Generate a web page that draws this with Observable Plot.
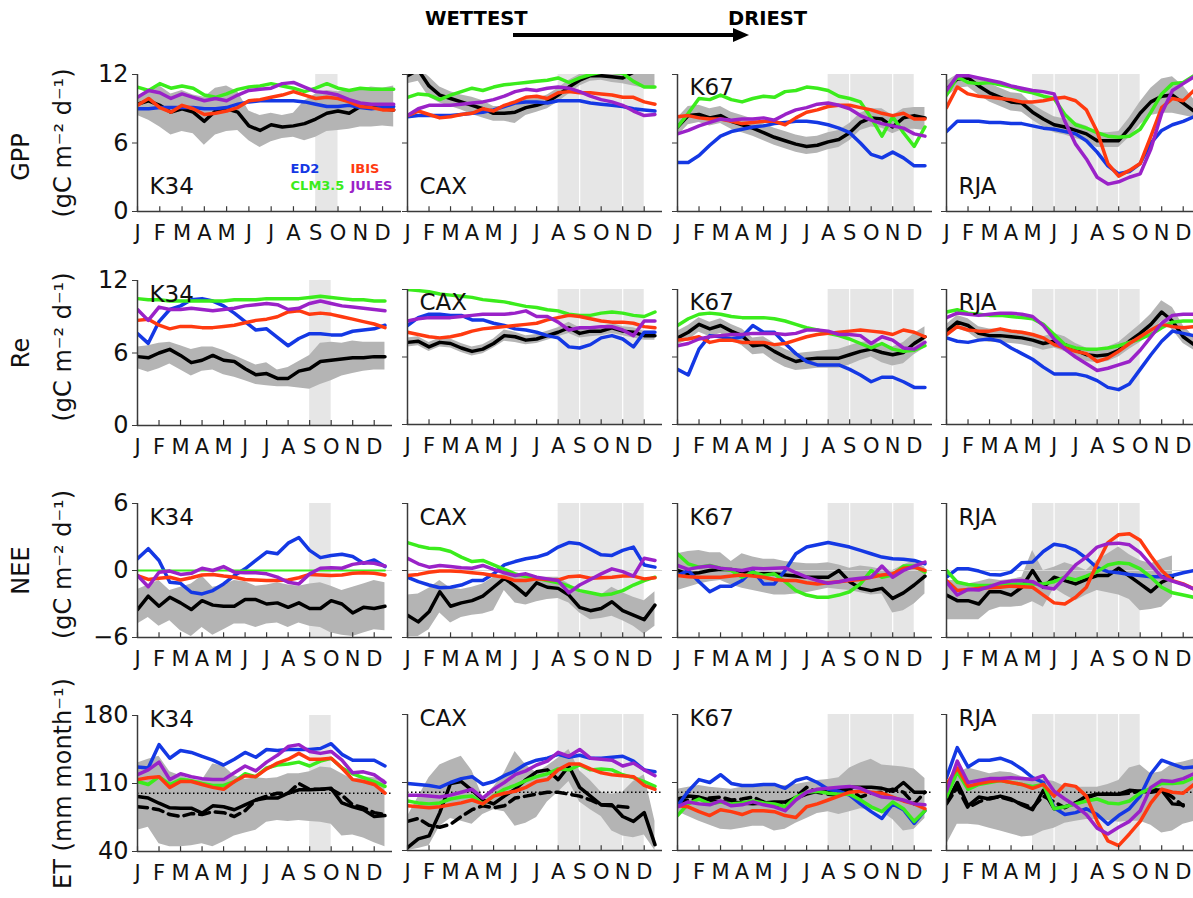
<!DOCTYPE html>
<html><head><meta charset="utf-8">
<script src="https://cdn.jsdelivr.net/npm/d3@7"></script>
<script src="https://cdn.jsdelivr.net/npm/@observablehq/plot@0.6"></script>
<style>
html,body{margin:0;padding:0;background:#fff;overflow:hidden;}
#fig{position:relative;width:1193px;height:898px;overflow:hidden;font-family:"DejaVu Sans",sans-serif;background:#fff;}
.panel{position:absolute;}
</style></head>
<body><div id="fig">
<svg style="position:absolute;left:0;top:0" width="1193" height="50">
<text x="425" y="25" font-family="DejaVu Sans" font-weight="bold" font-size="19.5" fill="#000">WETTEST</text>
<text x="728" y="25" font-family="DejaVu Sans" font-weight="bold" font-size="19.5" fill="#000">DRIEST</text>
<line x1="513" y1="35" x2="736" y2="35" stroke="#000" stroke-width="4"/>
<polygon points="733,28 749,35 733,42" fill="#000"/>
</svg>
</div>
<script>
// ---------- categories / labels ----------
var MONTHS = ["J","F","M","A","M","J","J","A","S","O","N","D"];
var SITES = ["K34","CAX","K67","RJA"];
var ROWS = ["GPP","Re","NEE","ET"];
var MODEL_KEYS = ["ED2","CLM","IBIS","JULES"];
var MODEL_NAMES = ["ED2","CLM3.5","IBIS","JULES"];
var MODEL_COLORS = ["#1438e4","#3bec1c","#ff3a10","#9a22c8"];
var Y_TICKS = [[0,6,12],[0,6,12],[-6,0,6],[40,110,180]];
var Y_DOMAINS = [[0,12],[0,12],[-6,6],[40,180]];
var Y_LABELS = [["GPP","(gC m⁻² d⁻¹)"],["Re","(gC m⁻² d⁻¹)"],["NEE","(gC m⁻² d⁻¹)"],["ET (mm month⁻¹)"]];
var DRY_START = [8,7,7,4];
var DRY_END = [9,11,11,9];
var DRY_SEPS = [[],[8,10],[8,10],[5,7,8]];
var ET_REF = 100;

// ---------- GPP ----------
var GPP_K34_obs = [9.4,9.7,9.3,8.7,9.0,8.7,7.9,8.8,9.0,8.7,7.5,7.1,7.6,7.4,7.5,7.7,8.1,8.6,8.8,8.6,9.2,9.1,9.0,8.9];
var GPP_K34_lo = [8.4,8.0,7.4,6.7,7.0,6.8,5.8,6.7,7.0,7.1,6.2,5.6,6.1,6.4,6.5,6.2,6.5,7.0,7.1,7.2,7.4,7.4,7.5,7.4];
var GPP_K34_hi = [10.0,10.6,11.0,10.3,10.6,10.2,10.0,10.8,11.0,10.5,8.8,8.4,8.6,8.4,8.6,9.7,10.3,10.6,10.5,10.6,10.7,10.9,10.8,11.0];
var GPP_K34_ED2 = [9.0,9.0,9.1,9.1,9.1,9.1,9.0,9.0,9.1,9.4,9.6,9.7,9.7,9.7,9.7,9.6,9.4,9.2,9.2,9.3,9.1,9.0,9.1,9.2];
var GPP_K34_CLM = [10.9,10.6,11.2,10.8,11.0,10.8,10.2,10.0,10.3,10.7,10.9,11.0,11.2,11.0,10.8,10.5,10.8,11.2,10.8,10.6,10.8,10.7,10.7,10.7];
var GPP_K34_IBIS = [9.3,9.9,9.1,8.7,9.3,9.0,8.5,8.6,8.8,9.1,9.7,9.8,10.0,10.2,10.5,10.2,9.9,10.0,9.9,9.6,9.2,9.1,8.9,8.9];
var GPP_K34_JULES = [10.0,10.6,10.4,9.9,10.3,10.0,9.7,9.9,9.7,10.2,10.6,10.7,10.8,11.2,11.3,10.9,10.5,10.4,10.2,9.8,9.5,9.4,9.4,9.4];

var GPP_CAX_obs = [11.9,12.4,11.0,10.2,9.9,9.6,9.3,9.0,8.6,8.6,8.7,9.1,9.3,9.6,10.2,10.9,11.5,11.9,11.9,11.8,11.7,12.2,12.3,12.3];
var GPP_CAX_lo = [11.2,11.4,10.0,9.5,9.2,8.9,8.5,8.2,7.9,7.9,7.7,8.4,8.7,9.0,9.6,10.3,11.0,11.4,11.5,11.3,11.2,11.0,10.8,10.7];
var GPP_CAX_hi = [12.6,12.6,11.8,10.9,10.5,10.2,10.0,9.7,9.2,9.2,9.3,9.8,9.9,10.2,10.8,11.5,12.0,12.4,12.4,12.4,12.4,12.6,12.7,12.7];
var GPP_CAX_ED2 = [8.3,8.4,8.4,8.4,8.4,8.5,8.6,8.7,8.9,9.2,9.5,9.6,9.6,9.5,9.7,9.7,9.7,9.5,9.4,9.3,9.2,9.0,8.9,8.8];
var GPP_CAX_CLM = [10.0,10.3,10.2,9.8,10.2,10.5,10.8,10.6,10.9,11.1,11.2,11.3,11.4,11.5,11.7,11.3,11.7,12.0,12.2,12.2,12.1,11.4,10.9,10.9];
var GPP_CAX_IBIS = [8.4,8.8,8.5,8.2,8.3,8.5,8.6,9.0,8.8,9.3,9.6,10.0,10.1,9.9,10.4,10.5,10.4,10.4,10.3,10.2,10.0,10.0,9.6,9.4];
var GPP_CAX_JULES = [8.4,9.0,9.3,9.3,9.3,9.4,9.5,9.6,9.8,10.1,10.5,10.7,10.6,10.8,10.9,10.8,10.5,10.1,9.8,9.6,9.3,8.8,8.4,8.5];

var GPP_K67_obs = [7.4,8.4,8.5,8.2,8.4,7.9,7.6,7.3,6.9,6.5,6.2,5.9,5.7,5.8,6.1,6.3,6.9,7.8,8.2,8.1,7.4,8.2,8.4,8.2];
var GPP_K67_lo = [6.6,7.6,7.8,7.5,7.7,7.2,6.9,6.6,6.2,5.8,5.5,5.2,5.0,5.1,5.4,5.6,6.2,7.1,7.4,7.3,6.8,7.2,7.2,7.1];
var GPP_K67_hi = [8.2,9.2,9.3,9.0,9.2,8.7,8.4,8.1,7.7,7.3,7.0,6.7,6.5,6.6,6.9,7.1,7.7,8.6,9.0,9.0,8.4,9.0,9.1,9.1];
var GPP_K67_ED2 = [4.3,4.3,4.9,5.8,6.6,7.0,7.2,7.4,7.5,7.7,7.8,7.9,7.9,7.8,7.6,7.3,6.9,6.0,5.0,4.7,5.2,4.7,4.0,4.0];
var GPP_K67_CLM = [7.4,8.6,9.9,9.8,10.2,9.8,9.6,9.9,10.1,10.0,10.5,10.6,10.9,10.8,10.6,10.1,9.9,9.6,8.2,6.6,8.3,6.9,5.7,7.4];
var GPP_K67_IBIS = [8.3,8.4,8.2,8.1,8.1,7.9,7.7,7.8,7.9,7.9,7.6,8.2,8.7,8.9,9.2,9.3,9.3,9.1,8.9,8.6,8.4,8.6,8.1,8.1];
var GPP_K67_JULES = [6.8,7.1,7.5,7.8,8.1,8.0,8.1,8.1,8.2,8.0,8.5,8.9,9.1,9.4,9.5,9.3,9.0,8.4,8.0,7.7,7.5,7.3,6.8,6.6];

var GPP_RJA_obs = [10.7,11.6,11.7,11.0,10.4,10.0,9.6,9.5,8.7,8.1,7.6,7.4,7.1,6.8,6.2,6.2,6.2,7.3,8.6,9.6,10.1,10.2,9.5,8.8];
var GPP_RJA_lo = [10.0,10.8,10.9,10.2,9.6,9.2,8.8,8.7,8.0,7.4,6.9,6.7,6.4,6.1,5.6,5.6,5.6,6.5,7.6,8.4,8.6,8.6,8.4,8.2];
var GPP_RJA_hi = [11.4,12.0,12.0,11.7,11.2,10.8,10.4,10.3,9.4,8.8,8.3,8.1,7.8,7.5,6.9,6.9,7.0,8.2,9.6,10.8,11.6,11.8,11.0,9.8];
var GPP_RJA_ED2 = [7.0,7.9,7.9,7.9,7.8,7.8,7.7,7.7,7.5,7.3,7.2,7.0,6.8,6.2,5.2,4.0,3.3,3.5,4.2,6.0,7.1,7.6,7.9,8.3];
var GPP_RJA_CLM = [10.2,11.8,11.3,11.2,11.3,11.1,10.9,10.6,10.4,10.1,9.9,8.5,7.6,7.3,6.9,6.6,6.5,6.6,7.2,8.7,10.3,11.2,11.3,11.9];
var GPP_RJA_IBIS = [9.1,10.9,10.3,10.1,10.0,9.9,9.8,9.6,9.6,9.7,9.9,10.0,9.7,8.9,7.0,4.2,3.1,3.6,4.2,6.6,9.1,9.9,9.7,10.6];
var GPP_RJA_JULES = [10.6,11.9,11.9,11.7,11.5,11.3,11.0,10.8,10.6,10.5,10.3,7.9,5.9,4.6,3.0,2.4,2.6,3.0,3.3,5.5,8.6,10.6,11.2,11.8];

// ---------- Re ----------
var Re_K34_obs = [5.7,5.6,6.0,6.3,5.8,5.2,5.4,5.8,5.4,5.3,4.7,4.2,4.3,3.9,3.9,4.5,4.7,5.3,5.4,5.5,5.6,5.6,5.7,5.7];
var Re_K34_lo = [4.7,4.4,4.7,5.1,4.6,4.1,4.5,4.6,4.2,4.0,3.7,3.4,3.3,3.2,3.2,3.1,3.0,3.4,3.7,4.1,4.3,4.5,4.6,4.6];
var Re_K34_hi = [6.5,6.6,6.8,6.9,6.6,6.3,6.5,6.5,6.2,5.8,5.4,5.0,5.2,4.6,4.8,5.3,5.8,6.8,6.9,6.8,7.0,6.9,6.9,6.9];
var Re_K34_ED2 = [7.6,6.8,8.6,9.6,9.9,10.4,10.5,10.3,9.9,9.3,8.6,7.9,8.0,7.3,6.6,7.2,7.6,7.6,7.5,7.5,7.8,7.9,8.0,8.3];
var Re_K34_CLM = [10.5,10.4,10.4,10.3,10.3,10.3,10.3,10.3,10.3,10.4,10.4,10.4,10.5,10.5,10.5,10.5,10.6,10.7,10.6,10.5,10.4,10.4,10.3,10.3];
var Re_K34_IBIS = [8.7,8.8,8.3,8.0,8.2,8.2,8.1,8.1,8.2,8.3,8.5,8.7,8.8,9.0,9.4,9.5,9.2,9.3,9.2,9.0,8.8,8.6,8.4,8.1];
var Re_K34_JULES = [9.6,8.7,9.8,9.6,9.6,9.7,9.6,9.5,9.6,9.7,9.9,10.0,10.1,10.0,9.6,9.7,10.1,10.3,10.1,9.9,9.8,9.7,9.6,9.5];

var Re_CAX_obs = [7.3,7.4,6.9,7.3,7.2,6.8,6.5,6.7,7.2,7.9,7.8,7.5,7.6,7.9,8.2,8.6,8.1,8.3,8.3,8.6,8.3,8.2,7.9,7.9];
var Re_CAX_lo = [6.9,7.0,6.5,6.9,6.8,6.4,6.1,6.3,6.8,7.4,7.3,7.1,7.2,7.5,7.8,8.1,7.7,7.8,7.9,8.1,7.9,7.7,7.5,7.5];
var Re_CAX_hi = [7.7,7.8,7.3,7.7,7.6,7.2,6.9,7.1,7.6,8.4,8.2,7.9,8.0,8.3,8.6,9.1,8.6,8.7,8.7,9.0,8.7,8.6,8.3,8.3];
var Re_CAX_ED2 = [8.8,9.5,9.8,9.8,9.7,9.7,9.3,9.3,9.0,8.8,8.5,8.4,8.2,7.9,7.7,6.9,6.8,7.1,7.7,7.9,7.6,6.9,8.2,8.2];
var Re_CAX_CLM = [12.0,11.9,11.8,11.6,11.5,11.4,11.3,11.1,11.0,10.9,10.7,10.5,10.4,10.2,10.1,9.8,9.7,9.7,9.9,10.0,9.9,9.7,9.6,10.0];
var Re_CAX_IBIS = [8.2,8.0,7.8,7.7,7.8,8.0,8.3,8.5,8.6,8.7,8.8,8.9,9.0,9.3,9.5,9.7,9.6,9.4,9.2,9.1,9.1,9.0,8.7,8.6];
var Re_CAX_JULES = [9.2,9.4,9.5,9.5,9.5,9.6,9.7,9.8,9.8,9.8,9.9,10.1,9.6,9.6,9.1,8.4,8.6,8.6,8.7,8.7,8.4,7.9,9.2,9.2];

var Re_K67_obs = [7.7,8.2,8.9,8.5,8.8,8.3,7.9,7.0,7.1,6.5,6.0,5.6,5.8,5.9,5.9,5.9,6.2,6.5,6.7,6.4,6.2,6.4,7.2,7.8];
var Re_K67_lo = [7.1,7.5,8.2,7.8,8.1,7.5,7.0,6.2,6.3,5.6,5.1,4.8,4.9,5.0,5.0,5.0,5.3,5.7,6.0,5.5,5.2,5.4,6.2,6.8];
var Re_K67_hi = [8.3,8.8,9.5,9.1,9.4,8.9,8.5,7.7,7.8,7.2,6.7,6.3,6.4,6.5,6.6,6.7,7.0,7.3,7.4,7.1,6.9,7.3,8.1,8.7];
var Re_K67_ED2 = [4.9,4.4,6.7,7.9,7.8,7.6,7.8,8.8,8.2,8.2,7.2,6.3,5.6,5.3,5.3,5.3,4.9,4.4,3.8,4.2,4.2,3.8,3.3,3.3];
var Re_K67_CLM = [8.8,9.4,9.8,9.9,9.8,9.6,9.5,9.5,9.5,9.4,9.2,8.9,8.6,8.4,8.1,7.9,7.6,7.2,6.8,7.2,6.7,6.5,6.6,7.0];
var Re_K67_IBIS = [7.5,7.6,7.8,7.3,7.5,7.5,7.3,7.3,7.3,7.1,7.2,7.5,7.8,8.0,8.1,8.2,8.3,8.4,8.3,8.2,8.0,8.4,8.2,7.8];
var Re_K67_JULES = [7.0,7.2,7.6,7.8,7.9,8.0,8.0,8.1,8.1,8.1,8.0,8.1,8.4,8.4,8.3,8.0,8.0,7.9,7.2,7.8,7.5,6.8,6.7,7.3];

var Re_RJA_obs = [8.3,9.1,8.8,8.1,7.9,7.9,7.8,7.7,7.5,7.2,7.4,7.1,6.6,6.2,6.1,6.2,6.6,7.4,8.1,8.9,10.0,9.2,7.8,7.1];
var Re_RJA_lo = [7.7,8.5,8.2,7.5,7.3,7.3,7.2,7.1,6.9,6.6,6.8,6.5,6.0,5.6,5.5,5.6,6.0,6.7,7.3,8.0,9.2,8.4,7.2,6.6];
var Re_RJA_hi = [8.9,9.7,9.4,8.7,8.5,8.5,8.4,8.3,8.1,7.8,8.1,7.8,7.2,6.8,6.7,6.9,7.3,8.1,8.9,9.8,11.0,10.4,8.8,7.8];
var Re_RJA_ED2 = [7.7,7.4,7.3,7.5,7.6,7.4,6.8,6.3,5.8,5.1,4.5,4.5,4.5,4.3,3.9,3.3,3.1,3.6,4.9,6.2,7.4,8.3,8.1,7.9];
var Re_RJA_CLM = [10.0,10.2,9.9,9.8,9.7,9.7,9.6,9.5,9.4,8.9,8.0,7.1,6.8,6.7,6.7,6.8,7.0,7.3,7.6,8.0,8.6,9.1,9.2,9.2];
var Re_RJA_IBIS = [8.0,8.7,8.4,8.3,8.3,8.5,8.3,8.2,8.0,7.7,7.1,6.8,6.5,6.3,5.6,5.9,6.5,7.2,7.8,8.4,8.9,8.7,8.6,8.7];
var Re_RJA_JULES = [9.5,9.9,9.8,9.7,9.8,9.9,9.9,9.8,9.6,8.8,7.6,6.7,6.0,5.4,4.8,5.0,5.3,5.6,6.6,7.8,9.0,9.7,9.8,9.8];

// ---------- NEE ----------
var NEE_K34_obs = [-3.5,-2.3,-3.2,-2.4,-2.9,-3.5,-2.7,-3.1,-3.2,-3.2,-2.6,-2.6,-3.0,-2.9,-3.3,-2.9,-3.4,-3.4,-2.7,-3.0,-3.8,-3.3,-3.4,-3.2];
var NEE_K34_lo = [-4.8,-4.2,-5.0,-4.5,-5.4,-5.9,-5.1,-5.8,-5.3,-4.8,-4.8,-5.1,-4.8,-4.7,-5.1,-4.7,-5.0,-5.1,-5.6,-5.8,-5.9,-5.6,-5.3,-5.4];
var NEE_K34_hi = [-1.7,-1.3,-0.9,-1.8,-1.5,-1.2,-0.5,-1.5,-1.3,-0.9,-1.0,-1.4,-1.3,-1.1,-1.3,-1.4,-1.2,-1.1,-1.4,-1.8,-1.5,-1.2,-0.9,-1.1];
var NEE_K34_ED2 = [1.05,1.95,0.9,-1.05,-1.15,-1.95,-2.1,-1.8,-1.2,-0.45,0.15,0.9,1.65,1.5,2.45,2.95,1.8,1.15,1.35,1.45,1.25,0.65,0.95,0.35];
var NEE_K34_CLM = [0,0,0,0,0,0,0,0,0,0,0,0,0,0,0,0,0,0,0,0,0,0,0,0];
var NEE_K34_IBIS = [-0.45,-0.8,-0.7,-0.6,-0.85,-0.65,-0.4,-0.35,-0.5,-0.6,-0.8,-0.85,-0.9,-0.9,-0.85,-0.65,-0.35,-0.4,-0.45,-0.4,-0.25,-0.2,-0.25,-0.4];
var NEE_K34_JULES = [-0.45,-1.45,-0.15,-0.05,-0.35,-0.25,0.2,0.0,0.35,-0.15,-0.2,-0.2,-0.3,-0.6,-1.05,-1.2,-0.3,0.2,0.25,0.2,0.55,0.7,0.65,0.4];

var NEE_CAX_obs = [-4.0,-4.6,-3.7,-1.9,-3.2,-2.9,-2.7,-2.3,-1.5,-0.7,-1.4,-2.2,-1.1,-1.5,-1.6,-2.2,-3.3,-3.6,-3.4,-2.8,-3.6,-4.0,-4.4,-3.1];
var NEE_CAX_lo = [-5.9,-5.9,-5.3,-3.8,-4.7,-4.2,-4.0,-3.9,-3.6,-1.8,-2.9,-3.1,-2.8,-2.6,-2.5,-2.9,-3.8,-4.4,-4.3,-4.1,-4.5,-5.0,-5.7,-5.0];
var NEE_CAX_hi = [-2.2,-2.1,-1.6,-0.9,-1.6,-1.7,-1.5,-1.2,-0.6,-0.3,-0.5,-0.6,-0.6,-0.6,-0.6,-1.2,-2.0,-2.1,-2.2,-1.5,-2.0,-2.4,-2.7,-1.9];
var NEE_CAX_ED2 = [-0.6,-1.0,-1.3,-1.55,-1.5,-1.3,-0.9,-0.9,-0.3,0.5,0.8,1.05,1.2,1.5,2.1,2.5,2.4,1.9,1.4,1.35,1.8,2.1,0.5,0.3];
var NEE_CAX_CLM = [2.5,2.2,2.0,1.95,1.7,1.2,0.8,0.9,0.5,0.1,-0.3,-0.55,-0.7,-0.9,-1.1,-1.4,-1.8,-2.0,-2.2,-2.1,-1.8,-1.3,-0.9,-0.6];
var NEE_CAX_IBIS = [-0.45,-0.35,-0.15,-0.05,-0.05,-0.1,-0.2,-0.3,-0.45,-0.6,-0.9,-0.9,-0.75,-0.8,-0.85,-0.55,-0.5,-0.7,-0.65,-0.6,-0.5,-0.5,-0.75,-0.65];
var NEE_CAX_JULES = [1.1,0.6,0.3,0.45,0.35,0.25,0.2,0.45,0.1,-0.2,-0.45,-0.3,-0.6,-0.75,-0.9,-2.0,-1.3,-0.8,-0.3,0.15,-0.1,-0.5,1.1,0.9];

var NEE_K67_obs = [0.0,-0.3,-0.2,0.0,0.1,0.1,-0.1,-0.3,-0.3,-0.3,-0.4,-0.5,-0.6,-0.6,-0.6,0.0,-1.0,-1.6,-1.8,-1.6,-2.5,-2.0,-1.3,-0.5];
var NEE_K67_lo = [-1.8,-1.5,-1.2,-1.0,-0.9,-1.3,-1.6,-1.8,-2.0,-2.2,-2.2,-2.1,-2.0,-1.8,-1.6,-1.7,-1.8,-2.0,-2.2,-2.1,-3.8,-3.6,-3.0,-2.1];
var NEE_K67_hi = [1.5,1.7,1.8,1.6,1.6,0.8,1.5,1.2,1.0,1.0,0.8,0.7,0.6,0.6,0.7,0.5,0.2,0.4,0.3,0.1,0.0,0.5,0.9,0.3];
var NEE_K67_ED2 = [-0.45,0.0,-1.0,-1.9,-1.4,-1.4,-0.9,0.0,-1.2,-1.2,0.0,1.5,2.1,2.3,2.5,2.3,2.1,1.8,1.5,1.2,1.05,1.0,0.9,0.6];
var NEE_K67_CLM = [1.5,0.6,0.3,0.45,0.2,0.0,-0.6,-0.15,-0.45,-0.3,-1.0,-1.8,-2.2,-2.4,-2.4,-2.2,-1.9,-1.2,0.0,-0.6,-0.4,0.4,0.4,-0.15];
var NEE_K67_IBIS = [-0.45,-0.55,-0.6,-0.6,-0.6,-0.5,-0.4,-0.5,-0.6,-0.8,-0.9,-0.9,-1.1,-1.2,-1.1,-1.0,-0.9,-0.8,-0.6,-0.4,-0.3,0.2,0.3,0.0];
var NEE_K67_JULES = [0.45,0.1,0.3,0.4,0.2,0.1,0.0,0.2,0.15,0.2,0.25,-0.2,-0.6,-0.9,-1.15,-1.0,-0.8,-0.7,-0.6,0.4,-0.6,0.0,0.4,0.75];

var NEE_RJA_obs = [-2.2,-2.7,-2.7,-3.0,-1.9,-1.9,-2.2,-1.5,0.0,-1.5,-0.6,-0.9,-1.2,-0.8,-0.45,-0.45,0.2,-0.5,-1.2,-1.9,-1.05,-0.6,null,null];
var NEE_RJA_lo = [-4.4,-4.4,-4.4,-4.4,-3.6,-3.3,-3.3,-3.2,-2.8,-3.3,-1.6,-2.2,-2.7,-2.2,-1.8,-2.0,-2.2,-2.6,-3.6,-3.5,-3.3,-2.4,null,null];
var NEE_RJA_hi = [-0.9,-0.9,-1.2,-1.0,-0.75,-0.9,-0.8,-0.6,1.8,0.0,0.3,0.7,0.4,0.0,0.9,1.5,2.1,1.4,0.9,0.6,1.0,1.3,null,null];
var NEE_RJA_ED2 = [-0.6,0.15,0.15,-0.05,-0.35,-0.4,-0.15,0.7,0.75,1.7,2.35,2.2,1.8,1.1,0.25,-0.1,-0.2,-0.35,-0.45,-0.55,-0.55,-0.45,-0.2,0.0];
var NEE_RJA_CLM = [0.0,-1.05,-1.25,-1.35,-1.35,-1.3,-1.25,-1.2,-1.2,-1.2,-1.0,-0.6,-0.85,-0.5,-0.1,0.5,0.7,0.6,0.15,-0.6,-1.5,-2.0,-2.2,-2.4];
var NEE_RJA_IBIS = [-0.9,-1.8,-1.7,-1.6,-1.55,-1.5,-1.4,-1.45,-1.5,-2.2,-2.9,-3.0,-2.4,-1.5,0.6,2.5,3.2,3.3,2.7,1.3,0.0,-0.9,-1.2,-1.65];
var NEE_RJA_JULES = [-1.05,-2.2,-1.7,-1.75,-1.45,-1.1,-0.95,-0.9,-1.0,-1.5,-1.65,-0.6,0.5,1.2,2.1,2.4,2.45,2.3,1.6,0.5,-0.6,-0.95,-1.25,-1.65];

// ---------- ET ----------
var ET_K34_obs = [96.6,95.0,89.7,85.0,84.6,84.6,79.5,87.0,86.0,83.0,88.0,93.0,95.0,95.0,100.0,103.5,103.5,104.0,105.0,90.0,86.0,83.0,76.0,77.0];
var ET_K34_obs2 = [86,85,83,78,76,79,78,81,80,76,82,93,97,100,100,110,104,104,104,98,88,85,80,78];
var ET_K34_lo = [62,65,48,45,45,46,48,45,50,56,59,62,70,72,71,72,71,70,68,56,57,54,49,45];
var ET_K34_hi = [131,135,138,122,118,114,113,130,128,118,114,116,115,116,120,120,122,127,126,120,114,117,116,114];
var ET_K34_ED2 = [127,126,150,136,144,142,138,134,129,135,142,137,145,144,145,145,145,146,151,140,134,134,134,128];
var ET_K34_CLM = [112,109,117,109,114,113,110,108,108,112,120,117,126,129,130,132,128,133,136,126,120,116,112,107];
var ET_K34_IBIS = [114,116,117,106,112,112,109,106,104,112,118,117,125,131,135,141,135,135,136,126,114,112,109,100];
var ET_K34_JULES = [119,124,132,114,120,117,115,114,114,121,128,123,132,139,148,150,143,141,143,134,121,122,119,111];

var ET_CAX_obs = [43,52,55,79,109,111,102,92,88,96,103,113,121,123,113,127,105,96,87,87,75,70,79,46];
var ET_CAX_obs2 = [70,73,66,64,67,75,82,86,84,86,94,96,98,100,100,98,96,92,87,86,85,84,null,null];
var ET_CAX_lo = [40,42,45,65,73,70,67,77,82,80,65,68,74,90,100,111,90,82,75,60,55,53,56,40];
var ET_CAX_hi = [75,95,115,128,133,137,122,95,105,120,142,128,120,127,135,144,122,112,100,98,100,111,118,70];
var ET_CAX_ED2 = [109,108,107,105,110,114,116,108,111,117,122,129,133,135,139,136,138,135,135,136,137,132,123,121];
var ET_CAX_CLM = [91,89,88,89,93,95,96,88,96,103,107,112,116,119,124,123,128,123,124,123,118,115,111,106];
var ET_CAX_IBIS = [86,85,84,85,87,89,92,88,96,99,101,105,111,113,123,129,129,124,120,118,117,116,107,103];
var ET_CAX_JULES = [97,97,96,95,97,100,103,94,103,110,118,122,128,132,141,137,144,135,134,133,127,130,123,117];

var ET_K67_obs = [93,96,95,92,90,90,89,88,89,90,90,94,98,101,101,102,105,105,105,104,101,110,100,100];
var ET_K67_obs2 = [90,92,93,94,95,92,93,95,90,86,88,95,105,100,98,97,103,95,99,100,103,100,88,100];
var ET_K67_lo = [80,75,70,66,62,61,63,65,65,60,62,68,73,78,80,77,80,83,82,80,72,60,62,73];
var ET_K67_hi = [103,105,107,105,104,103,105,106,106,106,107,108,110,112,113,115,125,130,134,128,127,126,124,114];
var ET_K67_ED2 = [86,101,113,110,118,109,107,107,108,108,104,112,115,110,103,101,97,88,80,73,88,82,68,81];
var ET_K67_CLM = [76,88,93,88,90,88,89,91,89,88,85,95,100,101,99,98,98,92,85,80,90,83,70,81];
var ET_K67_IBIS = [86,85,80,76,82,80,77,81,81,80,76,74,85,88,92,96,100,101,100,99,95,91,88,83];
var ET_K67_JULES = [85,90,88,87,91,86,87,90,87,85,81,92,100,103,104,105,106,104,99,95,94,92,88,87];

var ET_RJA_obs = [89,110,86,95,93,96,93,87,82,102,83,85,89,96,98,98,98,102,101,100,102,88,87,null];
var ET_RJA_obs2 = [88,105,84,90,94,95,92,88,84,96,90,84,89,94,98,98,98,99,101,103,102,95,86,null];
var ET_RJA_lo = [46,67,67,66,63,60,57,54,55,60,63,68,70,72,72,71,69,70,70,66,58,60,67,70];
var ET_RJA_hi = [101,119,125,122,119,121,120,116,114,113,111,106,105,105,105,108,112,125,128,119,121,129,131,134];
var ET_RJA_ED2 = [115,146,126,133,133,135,131,124,115,110,84,77,79,83,77,67,76,83,96,119,133,129,125,126];
var ET_RJA_CLM = [95,121,103,108,110,112,110,108,106,108,83,85,88,91,93,89,88,91,99,104,109,109,110,115];
var ET_RJA_IBIS = [108,125,106,109,111,112,110,108,104,108,96,108,106,96,70,50,45,57,70,89,103,100,99,108];
var ET_RJA_JULES = [101,132,110,112,114,114,115,114,113,117,101,93,86,77,63,57,64,70,81,105,112,111,114,119];

// ---------- legend in first panel ----------
var LEGEND_X = [6.87, 6.87, 9.56, 9.56];
var LEGEND_Y = [3.77, 2.28, 3.77, 2.28];
var LEGEND_ORDER = [0, 1, 2, 3];

// ---------- layout ----------
const XMAX = 11.85;
const COL_X = [137, 407, 677, 946];
const FRAME_TOP = [[74,74,74,74],[280,289,289,289],[503,503,503,503],[715,714,714,714]];
const FRAME_H = [[137,137,137,137],[145,135,135,135],[134,134,134,134],[136,136,136,136]];
const FRAME_W = [[264,255,255,255],[255,255,255,255],[255,255,255,255],[255,255,255,255]];
const SITE_LABEL = [
  [["bottom",-18],["bottom",-18],["top",4],["bottom",-18]],
  [["top",5],["top",4],["top",4],["top",4]],
  [["top",5],["top",5],["top",5],["top",5]],
  [["top",-5],["top",-5],["top",-5],["top",-5]]
];
const YLAB_DX = [-116, -74];
const YLAB_DY = [[14, 0],[0, -6],[0, -6],[0]];
const MT = 16, MB = 44, MR = 6;
const AXIS = "#3a3a3a";
const fig = document.getElementById("fig");

function fmtTick(d) { return d < 0 ? "\u2212" + Math.abs(d) : String(d); }

for (let r = 0; r < 4; r++) {
  for (let c = 0; c < 4; c++) {
    const key = ROWS[r], site = SITES[c];
    const get = s => window[key + "_" + site + "_" + s];
    const table = d3.range(24).map(i => {
      const o = {m: i / 2, obs: get("obs")[i], lo: get("lo")[i], hi: get("hi")[i]};
      if (key === "ET") o.obs2 = get("obs2")[i];
      MODEL_KEYS.forEach(k => { o[k] = get(k)[i]; });
      return o;
    });
    const [y0, y1] = Y_DOMAINS[r];
    const ml = c === 0 ? 137 : 10;
    const fw = FRAME_W[r][c], fh = FRAME_H[r][c];
    const marks = [];
    marks.push(Plot.rect([{a: DRY_START[c], b: DRY_END[c]}], {x1: "a", x2: "b", y1: () => y0, y2: () => y1, fill: "#e6e6e6"}));
    if (DRY_SEPS[c].length) marks.push(Plot.ruleX(DRY_SEPS[c], {stroke: "#ffffff", strokeWidth: 1.2}));
    marks.push(Plot.areaY(table, {x: "m", y1: "lo", y2: "hi", fill: "#b4b4b4", clip: true}));
    if (key === "NEE") marks.push(Plot.ruleY([0], {stroke: "#d6d6d6", strokeWidth: 1}));
    if (key === "ET") {
      marks.push(Plot.ruleY([ET_REF], {stroke: "#000", strokeWidth: 1.6, strokeDasharray: "1.5,2.5"}));
      marks.push(Plot.line(table, {x: "m", y: "obs2", stroke: "#000", strokeWidth: 3.5, strokeDasharray: "10,6", clip: true}));
    }
    marks.push(Plot.line(table, {x: "m", y: "obs", stroke: "#000", strokeWidth: 3.5, strokeLinejoin: "round", clip: true}));
    MODEL_KEYS.forEach((k, j) => {
      const thin = key === "NEE" && site === "K34" && k === "CLM";
      marks.push(Plot.line(table, {x: "m", y: k, stroke: MODEL_COLORS[j], strokeWidth: thin ? 1.8 : 3.5, strokeLinejoin: "round", clip: true}));
    });
    // axes
    marks.push(Plot.ruleY([y0], {stroke: AXIS, strokeWidth: 1.5}));
    marks.push(Plot.ruleX([0], {stroke: AXIS, strokeWidth: 1.5}));
    marks.push(Plot.ruleX(d3.range(12), {y1: () => y0, y2: () => y0 + (y1 - y0) * 0.035, stroke: AXIS, strokeWidth: 1.2}));
    marks.push(Plot.axisX(d3.range(12), {tickSize: 0, tickPadding: 14, tickFormat: i => MONTHS[i], fontSize: 21, label: null, fill: "#111"}));
    marks.push(Plot.axisY(Y_TICKS[r], {tickSize: 5, tickPadding: 4, fontSize: 24, label: null, stroke: AXIS, fill: "#111",
      tickFormat: c === 0 ? fmtTick : () => ""}));
    // site label
    const [anc, dy] = SITE_LABEL[r][c];
    marks.push(Plot.text([site], {frameAnchor: anc === "top" ? "top-left" : "bottom-left", dx: 12, dy: dy,
      lineAnchor: anc, textAnchor: "start", fontSize: 23, fill: "#111"}));
    if (r === 0 && c === 0) {
      marks.push(Plot.text(LEGEND_ORDER, {x: i => LEGEND_X[i], y: i => LEGEND_Y[i], text: i => MODEL_NAMES[i],
        fill: i => MODEL_COLORS[i], fontWeight: "bold", fontSize: 13, textAnchor: "start", lineAnchor: "middle"}));
    }
    if (c === 0) {
      Y_LABELS[r].forEach((lab, j) => {
        const dx = Y_LABELS[r].length === 1 ? YLAB_DX[1] : YLAB_DX[j];
        marks.push(Plot.text([lab], {frameAnchor: "left", dx: dx, dy: YLAB_DY[r][j], rotate: -90, fontSize: 24,
          textAnchor: "middle", lineAnchor: "middle", fill: "#111"}));
      });
    }
    const W = ml + fw + MR, H = MT + fh + MB;
    const svg = Plot.plot({
      width: W, height: H,
      marginLeft: ml, marginRight: MR, marginTop: MT, marginBottom: MB,
      x: {domain: [0, XMAX]},
      y: {domain: [y0, y1]},
      color: {type: "identity"},
      style: {fontFamily: "DejaVu Sans", background: "transparent", overflow: "visible", maxWidth: "none", color: "#111"},
      marks
    });
    const div = document.createElement("div");
    div.className = "panel";
    div.style.left = (COL_X[c] - ml) + "px";
    div.style.top = (FRAME_TOP[r][c] - MT) + "px";
    div.style.width = W + "px";
    div.style.height = H + "px";
    div.appendChild(svg);
    fig.appendChild(div);
  }
}
</script>
</body></html>
